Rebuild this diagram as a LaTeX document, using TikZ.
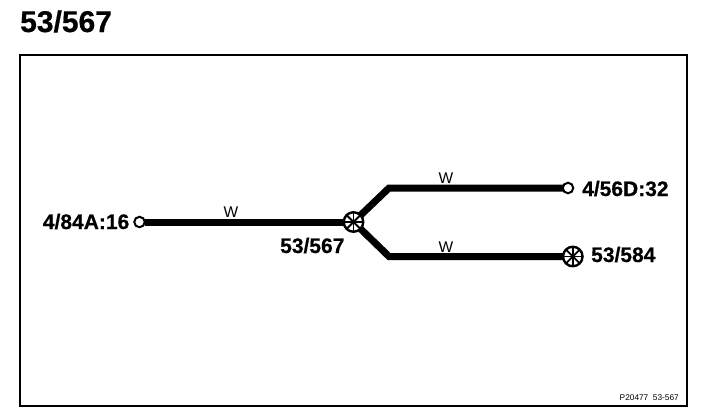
\documentclass[tikz,border=0pt]{standalone}
\usepackage{fontspec}
\usetikzlibrary{calc}
\setmainfont[BoldFeatures={FakeBold=0.6}]{Liberation Sans}
\tikzset{
 x=1pt,y=-1pt,
 wire/.style={line width=7pt,line join=miter},
 lab/.style={font=\fontsize{21}{21}\selectfont\bfseries,inner sep=0pt,anchor=base west},
 wlab/.style={font=\fontsize{15.5}{15.5}\selectfont,inner sep=0pt,anchor=base},
 term/.style={circle,draw,fill=white,line width=2pt,minimum size=10.5pt,inner sep=0pt,outer sep=0pt},
 hub/.style={circle,draw,fill=white,line width=2.4pt,minimum size=19.5pt,inner sep=0pt,outer sep=0pt},
 spoke/.style={line width=1.8pt}
}
\begin{document}
\begin{tikzpicture}
\useasboundingbox (0,0) rectangle (704,418);
\node[font=\fontsize{30}{30}\selectfont\bfseries,inner sep=0pt,anchor=base west] (title) at (20,32) {53/567};
\node[draw,line width=2pt,minimum width=667pt,minimum height=350.5pt,inner sep=0pt,outer sep=0pt,anchor=north west] (frame) at (20,55) {};
\node[term] (a) at (139.5,222) {};
\node[hub] (b) at (353.5,222) {};
\node[term] (c) at (568,188) {};
\node[hub] (d) at (572.8,256.5) {};
\coordinate (k1) at (389,188);
\coordinate (k2) at (389,256.5);
\draw[wire] (a) -- (b);
\draw[wire] (b) -- (k1) -- (c);
\draw[wire] (b) -- (k2) -- (d);
\foreach \n in {b,d}{
 \foreach \ang in {0,45,90,135}{
  \draw[spoke] ($(\n)+(\ang:9)$) -- ($(\n)+(\ang+180:9)$);
 }
}
\node[lab,anchor=base east] (la) at (129.5,229) {4/84A:16};
\node[lab] (lb) at (280,253) {53/567};
\node[lab] (lc) at (582,196) {4/56D:32};
\node[lab] (ld) at (591,262) {53/584};
\node[wlab] (w1) at (231,217) {W};
\node[wlab] (w2) at (446,183) {W};
\node[wlab] (w3) at (446,252) {W};
\node[font=\fontsize{8.3}{8.3}\selectfont,inner sep=0pt,anchor=base east] (ref) at (679,400) {P20477\ \ 53-567};
\end{tikzpicture}
\end{document}
